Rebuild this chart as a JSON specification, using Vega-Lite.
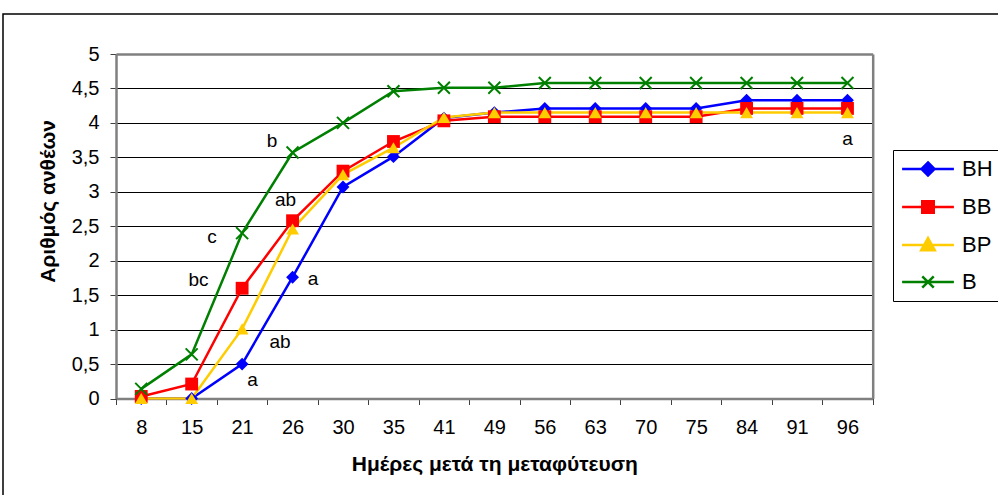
{
  "$schema": "https://vega.github.io/schema/vega-lite/v6.json",
  "width": 998,
  "height": 484,
  "autosize": {"type": "none"},
  "padding": {"left": 3, "top": 14, "right": -3, "bottom": -3},
  "background": "white",
  "config": {
    "font": "Liberation Sans",
    "view": {"stroke": "black", "strokeWidth": 1.5, "fill": "white"},
    "legend": {"strokeWidth": 1}
  },
  "datasets": {
    "flowers": [
      {"day": 8, "series": "BH", "value": 0},
      {"day": 15, "series": "BH", "value": 0},
      {"day": 21, "series": "BH", "value": 0.5},
      {"day": 26, "series": "BH", "value": 1.76},
      {"day": 30, "series": "BH", "value": 3.07},
      {"day": 35, "series": "BH", "value": 3.51},
      {"day": 41, "series": "BH", "value": 4.07},
      {"day": 49, "series": "BH", "value": 4.15},
      {"day": 56, "series": "BH", "value": 4.21},
      {"day": 63, "series": "BH", "value": 4.21},
      {"day": 70, "series": "BH", "value": 4.21},
      {"day": 75, "series": "BH", "value": 4.21},
      {"day": 84, "series": "BH", "value": 4.33},
      {"day": 91, "series": "BH", "value": 4.33},
      {"day": 96, "series": "BH", "value": 4.33},
      {"day": 8, "series": "BB", "value": 0.03},
      {"day": 15, "series": "BB", "value": 0.21},
      {"day": 21, "series": "BB", "value": 1.6},
      {"day": 26, "series": "BB", "value": 2.58},
      {"day": 30, "series": "BB", "value": 3.3},
      {"day": 35, "series": "BB", "value": 3.73},
      {"day": 41, "series": "BB", "value": 4.03},
      {"day": 49, "series": "BB", "value": 4.09},
      {"day": 56, "series": "BB", "value": 4.09},
      {"day": 63, "series": "BB", "value": 4.09},
      {"day": 70, "series": "BB", "value": 4.09},
      {"day": 75, "series": "BB", "value": 4.09},
      {"day": 84, "series": "BB", "value": 4.21},
      {"day": 91, "series": "BB", "value": 4.21},
      {"day": 96, "series": "BB", "value": 4.21},
      {"day": 8, "series": "BP", "value": 0},
      {"day": 15, "series": "BP", "value": 0},
      {"day": 21, "series": "BP", "value": 1.01},
      {"day": 26, "series": "BP", "value": 2.46},
      {"day": 30, "series": "BP", "value": 3.25},
      {"day": 35, "series": "BP", "value": 3.64},
      {"day": 41, "series": "BP", "value": 4.08},
      {"day": 49, "series": "BP", "value": 4.15},
      {"day": 56, "series": "BP", "value": 4.15},
      {"day": 63, "series": "BP", "value": 4.15},
      {"day": 70, "series": "BP", "value": 4.15},
      {"day": 75, "series": "BP", "value": 4.15},
      {"day": 84, "series": "BP", "value": 4.15},
      {"day": 91, "series": "BP", "value": 4.15},
      {"day": 96, "series": "BP", "value": 4.15},
      {"day": 8, "series": "B", "value": 0.14},
      {"day": 15, "series": "B", "value": 0.64},
      {"day": 21, "series": "B", "value": 2.4},
      {"day": 26, "series": "B", "value": 3.57},
      {"day": 30, "series": "B", "value": 4.0},
      {"day": 35, "series": "B", "value": 4.46},
      {"day": 41, "series": "B", "value": 4.51},
      {"day": 49, "series": "B", "value": 4.51},
      {"day": 56, "series": "B", "value": 4.58},
      {"day": 63, "series": "B", "value": 4.58},
      {"day": 70, "series": "B", "value": 4.58},
      {"day": 75, "series": "B", "value": 4.58},
      {"day": 84, "series": "B", "value": 4.58},
      {"day": 91, "series": "B", "value": 4.58},
      {"day": 96, "series": "B", "value": 4.58}
    ],
    "letters": [
      {"id": 1, "label": "b", "day": 26, "value": 3.74},
      {"id": 2, "label": "ab", "day": 26, "value": 2.88},
      {"id": 3, "label": "c", "day": 21, "value": 2.34},
      {"id": 4, "label": "bc", "day": 21, "value": 1.72},
      {"id": 5, "label": "a", "day": 26, "value": 1.74},
      {"id": 6, "label": "ab", "day": 26, "value": 0.82},
      {"id": 7, "label": "a", "day": 21, "value": 0.27},
      {"id": 8, "label": "a", "day": 96, "value": 3.77}
    ]
  },
  "layer": [
    {
      "data": {"name": "flowers"},
      "mark": {"type": "line", "strokeWidth": 2.5},
      "encoding": {
        "x": {
          "field": "day", "type": "ordinal",
          "scale": {"type": "band", "range": [113, 869.7], "paddingInner": 0, "paddingOuter": 0},
          "axis": {
            "orient": "bottom", "offset": -99.5, "labelAngle": 0, "labelFontSize": 20, "labelColor": "black",
            "labelPadding": 13, "tickSize": 6, "tickBand": "extent", "tickColor": "#404040",
            "domainColor": "#808080", "domainWidth": 2.5, "grid": false,
            "title": "Ημέρες μετά τη μεταφύτευση", "titleFontSize": 21, "titleFontWeight": "bold",
            "titleColor": "black", "titleBaseline": "alphabetic", "titleY": 72
          }
        },
        "y": {
          "field": "value", "type": "quantitative",
          "scale": {"domain": [0, 5], "range": [384.5, 40], "nice": false},
          "axis": {
            "orient": "left", "offset": -113,
            "values": [0, 0.5, 1, 1.5, 2, 2.5, 3, 3.5, 4, 4.5, 5],
            "labelExpr": "replace(toString(datum.value), '.', ',')",
            "labelFontSize": 20, "labelColor": "black", "labelPadding": 11,
            "tickSize": 6, "tickColor": "#404040",
            "domainColor": "#808080", "domainWidth": 2.5,
            "grid": true, "gridColor": "black", "gridWidth": 1,
            "gridOpacity": {"condition": {"test": "datum.value === 0 || datum.value === 5", "value": 0}, "value": 1},
            "title": "Αριθμός ανθέων", "titleFontSize": 21, "titleFontWeight": "bold", "titleColor": "black",
            "titleAngle": -90, "titleX": -62, "titleY": 187, "titleAlign": "center", "titleBaseline": "alphabetic"
          }
        },
        "color": {
          "field": "series", "type": "nominal",
          "scale": {"domain": ["BH", "BB", "BP", "B"], "range": ["#0000ff", "#ff0000", "#ffcc00", "#008000"]},
          "legend": {
            "orient": "none", "legendX": 890, "legendY": 136, "title": null,
            "padding": 8, "rowPadding": 15, "labelOffset": 39,
            "labelFontSize": 22, "labelColor": "black",
            "strokeColor": "black", "fillColor": "white",
            "symbolSize": 196, "symbolStrokeWidth": 2.5,
            "encode": {
              "symbols": {
                "update": {
                  "shape": {"signal": "datum.value === 'BH' ? 'M-3.7,0H3.7M0,-0.93L0.93,0L0,0.93L-0.93,0Z' : datum.value === 'BB' ? 'M-3.7,0H3.7M-0.82,-0.82H0.82V0.82H-0.82Z' : datum.value === 'BP' ? 'M-3.7,0H3.7M0,-1L0.97,0.74H-0.97Z' : 'M-3.7,0H3.7M-0.82,-0.82L0.82,0.82M-0.82,0.82L0.82,-0.82'"},
                  "fill": {"signal": "scale('color', datum.value)"},
                  "stroke": {"signal": "scale('color', datum.value)"},
                  "strokeWidth": {"value": 2.5},
                  "opacity": {"value": 1},
                  "fillOpacity": {"value": 1},
                  "strokeOpacity": {"value": 1},
                  "size": {"value": 196},
                  "x": {"value": 27}
                }
              }
            }
          }
        }
      }
    },
    {
      "data": {"name": "flowers"},
      "transform": [{"filter": "datum.series !== 'B'"}],
      "mark": {"type": "point", "filled": true, "opacity": 1, "size": 165},
      "encoding": {
        "x": {"field": "day", "type": "ordinal", "axis": null},
        "y": {"field": "value", "type": "quantitative", "axis": null},
        "color": {"field": "series", "type": "nominal"},
        "shape": {
          "field": "series", "type": "nominal",
          "scale": {"domain": ["BH", "BB", "BP"], "range": ["diamond", "square", "triangle-up"]},
          "legend": null
        }
      }
    },
    {
      "data": {"name": "flowers"},
      "transform": [{"filter": "datum.series === 'B'"}],
      "mark": {"type": "point", "shape": "M-1,-1L1,1M-1,1L1,-1", "filled": false, "strokeWidth": 2, "size": 144, "opacity": 1},
      "encoding": {
        "x": {
          "field": "day", "type": "ordinal",
          "axis": {"orient": "top", "offset": -40, "domainColor": "#808080", "domainWidth": 2.5, "ticks": false, "labels": false, "title": null, "grid": false}
        },
        "y": {
          "field": "value", "type": "quantitative",
          "axis": {"orient": "right", "offset": -128.3, "domainColor": "#808080", "domainWidth": 2.5, "ticks": false, "labels": false, "title": null, "grid": false}
        },
        "color": {"field": "series", "type": "nominal"}
      }
    },
    {
      "data": {"name": "letters"},
      "transform": [{"filter": "datum.id === 1"}],
      "mark": {"type": "text", "dx": -20.6, "fontSize": 19, "baseline": "middle", "color": "black"},
      "encoding": {"x": {"field": "day", "type": "ordinal", "axis": null}, "y": {"field": "value", "type": "quantitative", "axis": null}, "text": {"field": "label"}}
    },
    {
      "data": {"name": "letters"},
      "transform": [{"filter": "datum.id === 2"}],
      "mark": {"type": "text", "dx": -7, "fontSize": 19, "baseline": "middle", "color": "black"},
      "encoding": {"x": {"field": "day", "type": "ordinal", "axis": null}, "y": {"field": "value", "type": "quantitative", "axis": null}, "text": {"field": "label"}}
    },
    {
      "data": {"name": "letters"},
      "transform": [{"filter": "datum.id === 3"}],
      "mark": {"type": "text", "dx": -30, "fontSize": 19, "baseline": "middle", "color": "black"},
      "encoding": {"x": {"field": "day", "type": "ordinal", "axis": null}, "y": {"field": "value", "type": "quantitative", "axis": null}, "text": {"field": "label"}}
    },
    {
      "data": {"name": "letters"},
      "transform": [{"filter": "datum.id === 4"}],
      "mark": {"type": "text", "dx": -43.6, "fontSize": 19, "baseline": "middle", "color": "black"},
      "encoding": {"x": {"field": "day", "type": "ordinal", "axis": null}, "y": {"field": "value", "type": "quantitative", "axis": null}, "text": {"field": "label"}}
    },
    {
      "data": {"name": "letters"},
      "transform": [{"filter": "datum.id === 5"}],
      "mark": {"type": "text", "dx": 20.4, "fontSize": 19, "baseline": "middle", "color": "black"},
      "encoding": {"x": {"field": "day", "type": "ordinal", "axis": null}, "y": {"field": "value", "type": "quantitative", "axis": null}, "text": {"field": "label"}}
    },
    {
      "data": {"name": "letters"},
      "transform": [{"filter": "datum.id === 6"}],
      "mark": {"type": "text", "dx": -12.6, "fontSize": 19, "baseline": "middle", "color": "black"},
      "encoding": {"x": {"field": "day", "type": "ordinal", "axis": null}, "y": {"field": "value", "type": "quantitative", "axis": null}, "text": {"field": "label"}}
    },
    {
      "data": {"name": "letters"},
      "transform": [{"filter": "datum.id === 7"}],
      "mark": {"type": "text", "dx": 10.4, "fontSize": 19, "baseline": "middle", "color": "black"},
      "encoding": {"x": {"field": "day", "type": "ordinal", "axis": null}, "y": {"field": "value", "type": "quantitative", "axis": null}, "text": {"field": "label"}}
    },
    {
      "data": {"name": "letters"},
      "transform": [{"filter": "datum.id === 8"}],
      "mark": {"type": "text", "dx": 0, "fontSize": 19, "baseline": "middle", "color": "black"},
      "encoding": {"x": {"field": "day", "type": "ordinal", "axis": null}, "y": {"field": "value", "type": "quantitative", "axis": null}, "text": {"field": "label"}}
    }
  ],
  "resolve": {"axis": {"x": "independent", "y": "independent"}}
}
